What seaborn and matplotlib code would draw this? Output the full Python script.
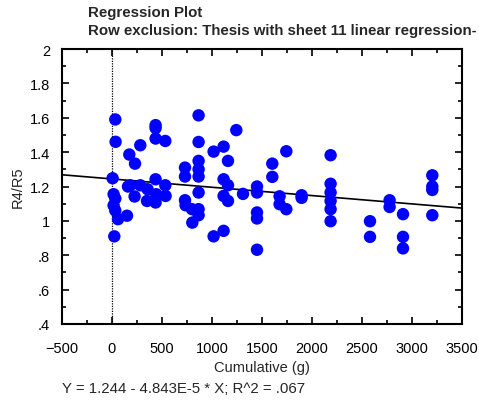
import matplotlib
matplotlib.use("Agg")
import matplotlib.pyplot as plt
import seaborn as sns
import numpy as np
import pandas as pd
from matplotlib.ticker import MultipleLocator, FuncFormatter

cumulative_g = [33, 36, 6, 16, 33, 16, 33, 60, 23,
                150, 173, 230, 283, 160, 183, 226, 283, 356, 350,
                436, 436, 436, 533, 436, 443, 436, 533, 536,
                730, 730, 730, 736, 800, 866, 866, 803,
                866, 866, 866, 866, 866, 866,
                1016, 1116, 1160, 1116, 1160, 1116, 1160, 1016, 1116,
                1243, 1310, 1450, 1450, 1450, 1450, 1450,
                1603, 1603, 1743, 1676, 1676, 1743, 1896, 1896,
                2186, 2186, 2186, 2186, 2186, 2186,
                2580, 2580, 2776, 2776, 2910, 2910, 2910,
                3203, 3203, 3203, 3203]
r4_r5 = [1.59, 1.46, 1.248, 1.155, 1.13, 1.09, 1.06, 1.01, 0.91,
         1.03, 1.386, 1.333, 1.44, 1.20, 1.207, 1.142, 1.207, 1.184, 1.116,
         1.557, 1.54, 1.479, 1.465, 1.242, 1.155, 1.107, 1.207, 1.145,
         1.31, 1.258, 1.12, 1.091, 1.068, 1.068, 1.033, 0.99,
         1.614, 1.459, 1.349, 1.30, 1.258, 1.165,
         1.403, 1.432, 1.349, 1.242, 1.207, 1.145, 1.116, 0.91, 0.942,
         1.528, 1.157, 1.2, 1.165, 1.049, 1.014, 0.832,
         1.333, 1.256, 1.405, 1.143, 1.097, 1.068, 1.149, 1.134,
         1.382, 1.216, 1.165, 1.116, 1.068, 0.998,
         0.998, 0.907, 1.12, 1.081, 1.039, 0.907, 0.84,
         1.265, 1.2, 1.18, 1.033]

intercept = 1.244
slope = -4.843e-5
x_range = [-500, 3500]
title1 = "Regression Plot"
title2 = "Row exclusion: Thesis with sheet 11 linear regression-"
equation = "Y = 1.244 - 4.843E-5 * X; R^2 = .067"

sns.set_style("ticks")
plt.rcParams['font.family'] = ['Liberation Sans', 'DejaVu Sans']

df = pd.DataFrame({"x": cumulative_g, "y": r4_r5})
line_df = pd.DataFrame({"x": x_range, "y": [intercept + slope * v for v in x_range]})

fig = plt.figure(figsize=(4.79, 4.02), dpi=100)
ax = fig.add_axes([62/479, 77/402, 400/479, 275/402])

ax.axvline(0, color="black", linestyle=(0, (1, 1)), linewidth=0.9, zorder=1)
sns.lineplot(data=line_df, x="x", y="y", ax=ax, color="black", linewidth=1.2, zorder=2)
sns.scatterplot(data=df, x="x", y="y", ax=ax, color="#0000ff", s=80, edgecolor="none", zorder=3)

ax.set_xlim(-500, 3500)
ax.set_ylim(0.4, 2.0)
ax.xaxis.set_major_locator(MultipleLocator(500))
ax.xaxis.set_minor_locator(MultipleLocator(250))
ax.yaxis.set_major_locator(MultipleLocator(0.2))
ax.yaxis.set_minor_locator(MultipleLocator(0.1))

def yfmt(v, pos):
    s = f"{v:.1f}"
    if s.endswith(".0"):
        s = s[:-2]
    if s.startswith("0"):
        s = s[1:]
    return s

ax.yaxis.set_major_formatter(FuncFormatter(yfmt))
ax.tick_params(which="both", direction="in", top=True, right=True, width=1.2, labelsize=10.5, colors="black")
ax.tick_params(which="major", length=5)
ax.tick_params(which="minor", length=3)
ax.tick_params(axis="x", which="major", pad=12.5)
ax.tick_params(axis="y", which="major", pad=8.5)
for sp in ax.spines.values():
    sp.set_linewidth(1.5)
    sp.set_color("black")

ax.set_xlabel("Cumulative (g)", fontsize=10.5, labelpad=3)
ax.set_ylabel("R4/R5", fontsize=10.5, labelpad=4)

fig.text(88/479, 1 - 13/402, title1, fontsize=10.8, fontweight="bold", va="center", ha="left")
fig.text(88/479, 1 - 31/402, title2, fontsize=10.8, fontweight="bold", va="center", ha="left")
fig.text(62/479, 1 - 389/402, equation, fontsize=10.8, va="center", ha="left")

fig.savefig("out.png", dpi=100)
